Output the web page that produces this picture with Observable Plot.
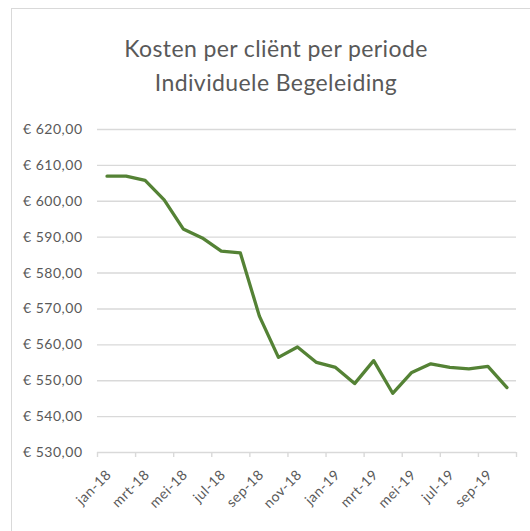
<!DOCTYPE html>
<html>
<head>
<meta charset="utf-8">
<script src="https://cdn.jsdelivr.net/npm/d3@7"></script>
<script src="https://cdn.jsdelivr.net/npm/@observablehq/plot@0.6"></script>
<style>
  html, body { margin: 0; padding: 0; background: #fff; }
  body { width: 530px; height: 531px; position: relative; overflow: hidden; font-family: Lato, "Open Sans", sans-serif; }
  #frame { position: absolute; left: 11px; top: 8px; width: 600px; height: 600px;
           border-left: 1.6px solid #d9d9d9; border-top: 1.6px solid #d9d9d9; }
  .title { position: absolute; left: 22px; width: 508px; text-align: center; color: #595959;
           font-size: 23px; line-height: 1; letter-spacing: 0.4px; }
  #chart { position: absolute; left: 0; top: 0; }
  #chart svg text { letter-spacing: 0.5px; }
</style>
</head>
<body>
<div id="frame"></div>
<div class="title" style="top:37px">Kosten per cliënt per periode</div>
<div class="title" style="top:71px">Individuele Begeleiding</div>
<div id="chart"></div>
<script>
const months = ["jan-18","feb-18","mrt-18","apr-18","mei-18","jun-18","jul-18","aug-18","sep-18","okt-18","nov-18","dec-18",
                "jan-19","feb-19","mrt-19","apr-19","mei-19","jun-19","jul-19","aug-19","sep-19","okt-19"];
const costs = [607.0, 607.0, 605.8, 600.4, 592.3, 589.8, 586.1, 585.6, 568.0, 556.5, 559.4, 555.1,
               553.7, 549.2, 555.6, 546.5, 552.3, 554.7, 553.7, 553.3, 554.0, 548.1];
const yTicks = [530, 540, 550, 560, 570, 580, 590, 600, 610, 620];

const data = months.map((m, i) => ({i, month: m, cost: costs[i]}));
const labelTicks = months.map((m, i) => i).filter(i => i % 2 === 0);
const boundaryTicks = d3.range(-0.5, months.length, 2);

const euro = v => "€ " + v.toFixed(2).replace(".", ",");

const chart = Plot.plot({
  width: 530,
  height: 531,
  marginTop: 129,
  marginBottom: 79,
  marginLeft: 97,
  marginRight: 14,
  style: {fontFamily: "Lato, 'Open Sans', sans-serif", fontSize: "14px", color: "#595959", background: "transparent", overflow: "visible"},
  x: {type: "linear", domain: [-0.5, months.length - 0.5]},
  y: {domain: [530, 620]},
  marks: [
    Plot.gridY(yTicks, {stroke: "#d9d9d9", strokeOpacity: 1, strokeWidth: 1.4}),
    Plot.axisY(yTicks, {tickSize: 0, tickPadding: 15, tickFormat: euro, fill: "#595959", fontSize: 14, label: null}),
    Plot.axisX(boundaryTicks, {tickSize: 5, tickFormat: () => "", stroke: "#d9d9d9", strokeOpacity: 1, strokeWidth: 1.4, label: null}),
    Plot.axisX(labelTicks, {tickSize: 0, tickPadding: 20, dx: 2, tickRotate: -45, tickFormat: i => months[i], fill: "#595959", fontSize: 14, label: null}),
    Plot.line(data, {x: "i", y: "cost", stroke: "#548235", strokeWidth: 3.3, strokeLinejoin: "round", strokeLinecap: "round"})
  ]
});
document.getElementById("chart").appendChild(chart);
</script>
</body>
</html>
